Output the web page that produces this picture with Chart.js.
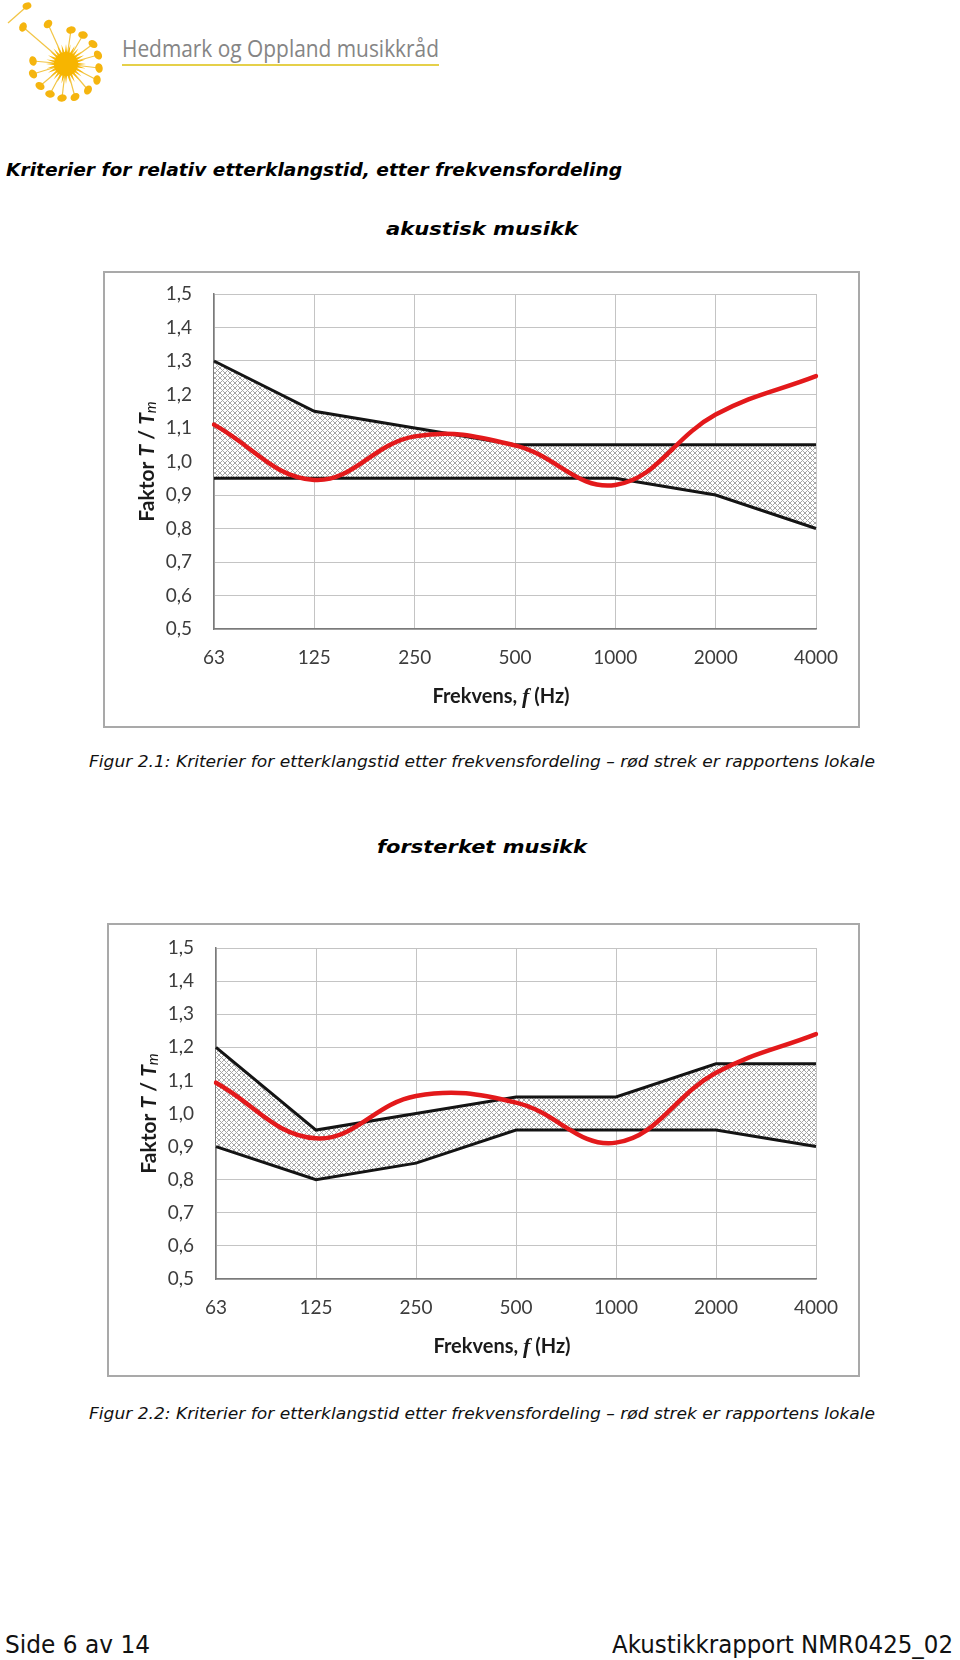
<!DOCTYPE html>
<html><head><meta charset="utf-8">
<script src="https://cdn.jsdelivr.net/npm/chart.js@4.4.0/dist/chart.umd.min.js"></script>
<style>
html,body{margin:0;padding:0;background:#fff;}
body{width:960px;height:1660px;position:relative;overflow:hidden;}
.t{position:absolute;white-space:nowrap;line-height:1;transform-origin:0 0;left:0;top:0;}
.frame{position:absolute;border:2px solid #a9a9a9;box-sizing:border-box;background:#fff;}
canvas{position:absolute;}
</style></head>
<body>
<svg id="logo" width="120" height="110" style="position:absolute;left:0;top:0"></svg>
<div style="position:absolute;left:122px;top:64px;width:317px;height:2px;background:#e5d04a"></div>
<div class="frame" style="left:103px;top:271px;width:757px;height:457px"></div>
<canvas id="c1" width="753" height="453" style="left:105px;top:273px"></canvas>
<div class="frame" style="left:107px;top:923px;width:753px;height:454px"></div>
<canvas id="c2" width="749" height="450" style="left:109px;top:925px"></canvas>
<script>
// ---------- data ----------
const frequencies = ['63', '125', '250', '500', '1000', '2000', '4000'];
const yTickValues = [0.5, 0.6, 0.7, 0.8, 0.9, 1.0, 1.1, 1.2, 1.3, 1.4, 1.5];
const yTickLabels = ['0,5', '0,6', '0,7', '0,8', '0,9', '1,0', '1,1', '1,2', '1,3', '1,4', '1,5'];

const akustiskUpper  = [1.30, 1.15, 1.10, 1.05, 1.05, 1.05, 1.05];
const akustiskLower  = [0.95, 0.95, 0.95, 0.95, 0.95, 0.90, 0.80];
const akustiskLokale = [1.11, 0.945, 1.075, 1.048, 0.93, 1.14, 1.255];

const forsterketUpper  = [1.20, 0.95, 1.00, 1.05, 1.05, 1.15, 1.15];
const forsterketLower  = [0.90, 0.80, 0.85, 0.95, 0.95, 0.95, 0.90];
const forsterketLokale = [1.093, 0.925, 1.053, 1.033, 0.912, 1.123, 1.24];

// ---------- texts ----------
const logoText = 'Hedmark og Oppland musikkråd';
const headingText = 'Kriterier for relativ etterklangstid, etter frekvensfordeling';
const chart1Title = 'akustisk musikk';
const chart2Title = 'forsterket musikk';
const caption1 = 'Figur 2.1: Kriterier for etterklangstid etter frekvensfordeling \u2013 rød strek er rapportens lokale';
const caption2 = 'Figur 2.2: Kriterier for etterklangstid etter frekvensfordeling \u2013 rød strek er rapportens lokale';
const footerLeft = 'Side 6 av 14';
const footerRight = 'Akustikkrapport NMR0425_02';

function put(str, o){
  const el = document.createElement('div');
  el.className = 't'; el.textContent = str;
  el.style.fontFamily = o.family; el.style.fontSize = o.size + 'px';
  el.style.fontWeight = o.weight || 'normal'; el.style.fontStyle = o.style || 'normal';
  el.style.color = o.color || '#000';
  document.body.appendChild(el);
  const w = el.getBoundingClientRect().width;
  el.style.left = o.left + 'px';
  el.style.top = (o.cy - o.capRatio * o.size) + 'px';
  el.style.transform = 'scaleX(' + ((o.right - o.left) / w) + ')';
}
const DV = '"DejaVu Sans", Verdana, sans-serif';
put(logoText, {family:'"Open Sans", sans-serif', size:23, color:'#858585', left:122, right:439, cy:49, capRatio:0.53});
put(headingText, {family:DV, size:17, weight:'bold', style:'italic', left:6, right:622, cy:170, capRatio:0.48});
put(chart1Title, {family:DV, size:18, weight:'bold', style:'italic', left:386, right:578, cy:229, capRatio:0.48});
put(caption1, {family:DV, size:15, style:'italic', color:'#111', left:89, right:875, cy:762, capRatio:0.48});
put(chart2Title, {family:DV, size:18, weight:'bold', style:'italic', left:377, right:587, cy:847, capRatio:0.48});
put(caption2, {family:DV, size:15, style:'italic', color:'#111', left:89, right:875, cy:1414, capRatio:0.48});
put(footerLeft, {family:DV, size:24, color:'#111', left:5, right:150, cy:1645, capRatio:0.48});
put(footerRight, {family:DV, size:24, color:'#111', left:612, right:953, cy:1645, capRatio:0.48});

// ---------- logo ----------
(function(){
  const svg = document.getElementById('logo');
  const cx = 66, cy = 64;
  const heads = [[23,27],[48,24],[71,30],[83,35],[93,44],[98,55],[99,68],[97,80],[88,90],[75,97],[62,98],[50,94],[40,86],[33,74],[33,61]];
  let html = '';
  html += '<line x1="8" y1="23" x2="25" y2="8" stroke="#f2c546" stroke-width="1.3"/>';
  html += '<ellipse cx="27" cy="6" rx="4.5" ry="3.4" fill="#f5b50f" transform="rotate(-20 27 6)"/>';
  heads.forEach(([x,y])=>{
    const a = Math.atan2(y-cy, x-cx) * 180 / Math.PI;
    html += '<line x1="'+cx+'" y1="'+cy+'" x2="'+x+'" y2="'+y+'" stroke="#f2c546" stroke-width="1.2"/>';
    html += '<ellipse cx="'+x+'" cy="'+y+'" rx="4.8" ry="3.7" fill="#f5b50f" transform="rotate('+(a+70)+' '+x+' '+y+')"/>';
  });
  let pts = [];
  const n = 28;
  for (let i = 0; i < 2*n; i++){
    const r = i % 2 ? 11 : 20;
    const ang = i * Math.PI / n;
    pts.push((cx + r*Math.cos(ang)).toFixed(1) + ',' + (cy + r*Math.sin(ang)).toFixed(1));
  }
  html += '<polygon points="'+pts.join(' ')+'" fill="#f7b80d"/>';
  html += '<circle cx="'+cx+'" cy="'+cy+'" r="12" fill="#f7b500"/>';
  svg.innerHTML = html;
})();

// ---------- charts ----------
function makePattern(ctx){
  const s = 5;
  const c = document.createElement('canvas'); c.width = s; c.height = s;
  const g = c.getContext('2d');
  g.fillStyle = '#ffffff'; g.fillRect(0,0,s,s);
  g.strokeStyle = '#a6a6a6'; g.lineWidth = 1;
  g.beginPath();
  g.moveTo(-1,-1); g.lineTo(s+1,s+1);
  g.moveTo(s+1,-1); g.lineTo(-1,s+1);
  g.stroke();
  return ctx.createPattern(c, 'repeat');
}

function drawParts(ctx, parts, cx, cy){
  let total = 0;
  parts.forEach(p => { ctx.font = p.font; p.w = ctx.measureText(p.text).width; total += p.w; });
  let x = cx - total / 2;
  parts.forEach(p => { ctx.font = p.font; ctx.fillText(p.text, x, cy + (p.dy || 0)); x += p.w; });
}

const axisTitles = {
  id: 'axisTitles',
  afterDraw(chart){
    const ctx = chart.ctx, a = chart.chartArea;
    ctx.save();
    ctx.fillStyle = '#1a1a1a';
    ctx.textAlign = 'left';
    ctx.textBaseline = 'middle';
    drawParts(ctx, [
      {text:'Frekvens, ', font:'bold 20px Lato'},
      {text:'f', font:'bold italic 22px "Liberation Serif"'},
      {text:' (Hz)', font:'bold 20px Lato'}
    ], (a.left + a.right) / 2 - 14, a.bottom + 68);
    ctx.translate(a.left - 67, (a.top + a.bottom) / 2);
    ctx.rotate(-Math.PI / 2);
    drawParts(ctx, [
      {text:'Faktor ', font:'bold 21px Lato'},
      {text:'T', font:'bold italic 21px Lato'},
      {text:' / ', font:'bold 21px Lato'},
      {text:'T', font:'bold italic 21px Lato'},
      {text:'m', font:'italic 15px Lato', dy:4}
    ], 0, 0);
    ctx.restore();
  }
};

function makeChart(id, upper, lower, lokale, g){
  const ctx = document.getElementById(id).getContext('2d');
  const pattern = makePattern(ctx);
  return new Chart(ctx, {
    type: 'line',
    data: {
      labels: frequencies,
      datasets: [
        {data: upper, borderColor:'#141414', borderWidth:3, pointRadius:0, tension:0, fill:'+1', backgroundColor:pattern, order:1},
        {data: lower, borderColor:'#141414', borderWidth:3, pointRadius:0, tension:0, fill:false, order:2},
        {data: lokale, borderColor:'#e3191b', borderWidth:4.5, pointRadius:0, tension:0.4, fill:false, order:0, borderCapStyle:'round'}
      ]
    },
    options: {
      responsive:false, animation:false, devicePixelRatio:1,
      layout:{padding:{left:0, right:g.padRight, top:g.padTop, bottom:0}},
      plugins:{legend:{display:false}, tooltip:{enabled:false}, filler:{drawTime:'beforeDatasetsDraw'}},
      scales:{
        x:{
          grid:{color:'#c4c4c4', lineWidth:1, drawTicks:false},
          border:{color:'#7a7a7a', width:1.5},
          ticks:{font:{family:'Lato', size:19}, color:'#3c3c3c', padding:17, maxRotation:0, autoSkip:false},
          afterFit(s){ s.height = g.xAxisH; s.paddingLeft = 0; s.paddingRight = 0; }
        },
        y:{
          min:0.5, max:1.5,
          grid:{color:'#c4c4c4', lineWidth:1, drawTicks:false},
          border:{color:'#7a7a7a', width:1.5},
          ticks:{font:{family:'Lato', size:19}, color:'#3c3c3c', padding:22,
                 callback:(v, i) => yTickLabels[i]},
          afterBuildTicks(s){ s.ticks = yTickValues.map(v => ({value:v})); },
          afterFit(s){ s.width = g.yAxisW; s.paddingTop = 0; s.paddingBottom = 0; }
        }
      }
    },
    plugins:[axisTitles]
  });
}

makeChart('c1', akustiskUpper, akustiskLower, akustiskLokale, {padRight:42, padTop:21, xAxisH:97, yAxisW:109});
makeChart('c2', forsterketUpper, forsterketLower, forsterketLokale, {padRight:42, padTop:23, xAxisH:96, yAxisW:107});
</script>
</body></html>
